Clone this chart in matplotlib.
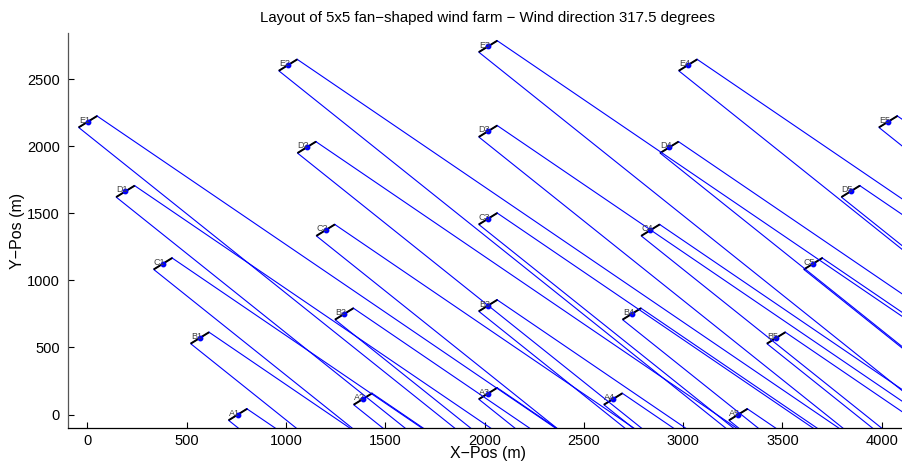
import numpy as np
import matplotlib
matplotlib.use('Agg')
import matplotlib.pyplot as plt

plt.rcParams['font.family'] = ['Liberation Sans', 'DejaVu Sans']

# Turbine labels (rows A..E, columns 1..5)
labels = ['A1', 'A2', 'A3', 'A4', 'A5',
          'B1', 'B2', 'B3', 'B4', 'B5',
          'C1', 'C2', 'C3', 'C4', 'C5',
          'D1', 'D2', 'D3', 'D4', 'D5',
          'E1', 'E2', 'E3', 'E4', 'E5']
# Hub positions (m)
x_pos = [757, 1387, 2017, 2647, 3277,
         566, 1293, 2017, 2741, 3468,
         380, 1199, 2017, 2835, 3654,
         191, 1104, 2017, 2930, 3843,
         2, 1010, 2017, 3024, 4032]
y_pos = [0, 116, 157, 116, 0,
         571, 750, 812, 750, 571,
         1124, 1374, 1459, 1374, 1124,
         1663, 1991, 2111, 1991, 1663,
         2182, 2604, 2743, 2604, 2182]

wind_dir = 317.5       # degrees
rotor_d = 126.0        # m
wake_k = 0.04          # wake expansion
wake_len = 6000.0      # m

x_ticks = [0, 500, 1000, 1500, 2000, 2500, 3000, 3500, 4000]
y_ticks = [0, 500, 1000, 1500, 2000, 2500]

fig = plt.figure(figsize=(9.03, 4.68), dpi=100)
ax = fig.add_axes([68 / 903, 40 / 468, 840 / 903, 395 / 468])

th = np.deg2rad(wind_dir)
flow = np.array([-np.sin(th), -np.cos(th)])
perp = np.array([-flow[1], flow[0]])
r = rotor_d / 2

for lab, x, y in zip(labels, x_pos, y_pos):
    hub = np.array([x, y], dtype=float)
    p1 = hub + r * perp
    p2 = hub - r * perp
    end = hub + wake_len * flow
    w = r + wake_k * wake_len
    p4 = end + w * perp
    p3 = end - w * perp
    poly = np.array([p1, p4, p3, p2, p1])
    ax.plot(poly[:, 0], poly[:, 1], color=(0, 0, 1), lw=0.8)
    ax.plot([p1[0], p2[0]], [p1[1], p2[1]], color='black', lw=1.4,
            solid_capstyle='butt')
    ax.plot([x], [y], marker='o', ms=3.2, color=(0, 0, 1), mec=(0, 0, 1))
    ax.annotate(lab, (x, y), xytext=(1.5, 1), textcoords='offset points',
                ha='right', va='center', fontsize=6.5, color='#404040')

ax.set_xlim(min(x_pos) - 100, max(x_pos) + 100)
ax.set_ylim(min(y_pos) - 100, max(y_pos) + 100)
ax.set_xticks(x_ticks)
ax.set_yticks(y_ticks)
ax.spines['top'].set_visible(False)
ax.spines['right'].set_visible(False)
ax.spines['left'].set_color('#555555')
for s in ('left', 'bottom'):
    ax.spines[s].set_linewidth(0.9)
ax.tick_params(direction='in', length=4, width=0.8, labelsize=10.5)
ax.tick_params(axis='x', pad=4)
ax.tick_params(axis='y', pad=6)

ax.set_title('Layout of 5x5 fan\u2212shaped wind farm \u2212 Wind direction 317.5 degrees',
             fontsize=10.8, pad=8)
ax.set_xlabel('X\u2212Pos (m)', fontsize=11.5, labelpad=-1)
ax.set_ylabel('Y\u2212Pos (m)', fontsize=11.5, labelpad=1)

fig.savefig('out.png', dpi=100)
